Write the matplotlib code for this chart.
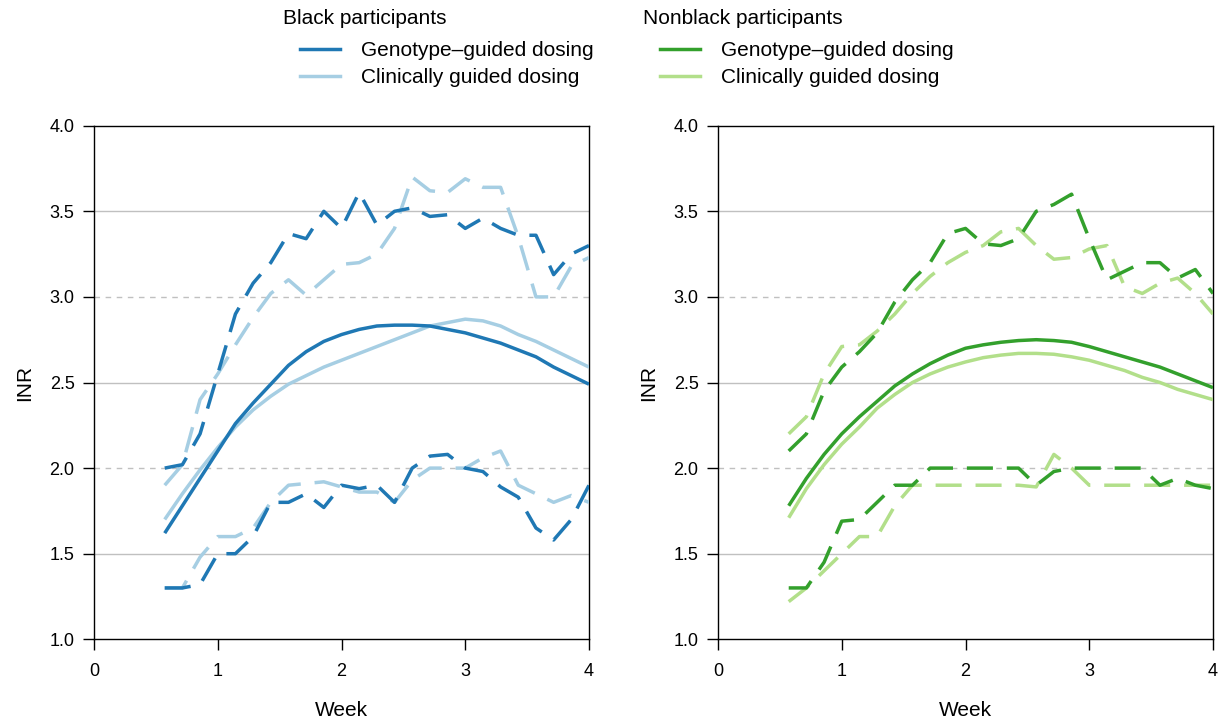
import numpy as np
import matplotlib
matplotlib.use("Agg")
import matplotlib.pyplot as plt
from matplotlib.lines import Line2D

plt.rcParams['font.family'] = ['Liberation Sans', 'DejaVu Sans']

# days since start of therapy (x is shown in weeks)
days = [4, 5, 6, 7, 8, 9, 10, 11, 12, 13, 14, 15, 16, 17, 18, 19, 20, 21, 22, 23, 24, 25, 26, 27, 28]

# Black participants
blk_geno_mid = [1.62, 1.78, 1.94, 2.10, 2.26, 2.38, 2.49, 2.60, 2.68, 2.74, 2.78, 2.81, 2.83, 2.835,
                2.835, 2.83, 2.81, 2.79, 2.76, 2.73, 2.69, 2.65, 2.59, 2.54, 2.49]
blk_geno_hi = [2.00, 2.02, 2.20, 2.55, 2.90, 3.08, 3.20, 3.37, 3.34, 3.50, 3.40, 3.61, 3.42, 3.50,
               3.52, 3.47, 3.48, 3.40, 3.46, 3.40, 3.36, 3.36, 3.13, 3.25, 3.30]
blk_geno_lo = [1.30, 1.30, 1.32, 1.50, 1.50, 1.60, 1.80, 1.80, 1.85, 1.77, 1.90, 1.88, 1.90, 1.80,
               2.00, 2.07, 2.08, 2.00, 1.98, 1.89, 1.83, 1.65, 1.58, 1.70, 1.90]
blk_clin_mid = [1.70, 1.85, 1.99, 2.12, 2.24, 2.34, 2.42, 2.49, 2.54, 2.59, 2.63, 2.67, 2.71, 2.75,
                2.79, 2.83, 2.85, 2.87, 2.86, 2.83, 2.78, 2.74, 2.69, 2.64, 2.59]
blk_clin_hi = [1.90, 2.02, 2.40, 2.55, 2.72, 2.88, 3.02, 3.10, 3.01, 3.10, 3.19, 3.20, 3.25, 3.40,
               3.70, 3.62, 3.61, 3.69, 3.64, 3.64, 3.35, 3.00, 3.00, 3.18, 3.23]
blk_clin_lo = [1.30, 1.30, 1.48, 1.60, 1.60, 1.65, 1.80, 1.90, 1.91, 1.92, 1.89, 1.86, 1.86, 1.80,
               1.93, 2.00, 2.00, 2.00, 2.06, 2.10, 1.90, 1.85, 1.80, 1.84, 1.80]

# Nonblack participants
nb_geno_mid = [1.78, 1.94, 2.08, 2.20, 2.30, 2.39, 2.48, 2.55, 2.61, 2.66, 2.70, 2.72, 2.735, 2.745,
               2.75, 2.745, 2.735, 2.71, 2.68, 2.65, 2.62, 2.59, 2.55, 2.51, 2.47]
nb_geno_hi = [2.10, 2.20, 2.45, 2.59, 2.68, 2.79, 2.97, 3.10, 3.20, 3.37, 3.40, 3.31, 3.30, 3.34,
              3.50, 3.54, 3.60, 3.34, 3.10, 3.15, 3.20, 3.20, 3.11, 3.16, 3.02]
nb_geno_lo = [1.30, 1.30, 1.45, 1.69, 1.70, 1.80, 1.90, 1.90, 2.00, 2.00, 2.00, 2.00, 2.00, 2.00,
              1.90, 1.98, 2.00, 2.00, 2.00, 2.00, 2.00, 1.90, 1.94, 1.90, 1.88]
nb_clin_mid = [1.71, 1.88, 2.02, 2.14, 2.24, 2.35, 2.43, 2.50, 2.55, 2.59, 2.62, 2.645, 2.66, 2.67,
               2.67, 2.665, 2.65, 2.63, 2.60, 2.57, 2.53, 2.50, 2.46, 2.43, 2.40]
nb_clin_hi = [2.20, 2.30, 2.55, 2.71, 2.72, 2.80, 2.90, 3.02, 3.12, 3.20, 3.26, 3.30, 3.38, 3.40,
              3.30, 3.22, 3.23, 3.28, 3.30, 3.06, 3.02, 3.08, 3.11, 3.02, 2.90]
nb_clin_lo = [1.22, 1.30, 1.40, 1.50, 1.60, 1.60, 1.78, 1.90, 1.90, 1.90, 1.90, 1.90, 1.90, 1.90,
              1.89, 2.08, 2.00, 1.90, 1.90, 1.90, 1.90, 1.90, 1.90, 1.90, 1.90]

groups = ["Black participants", "Nonblack participants"]
arms = ["Genotype\u2013guided dosing", "Clinically guided dosing"]
colors = {"Black participants": ["#1f78b4", "#a6cee3"],
          "Nonblack participants": ["#33a02c", "#b2df8a"]}
series = {"Black participants": [(blk_geno_mid, blk_geno_lo, blk_geno_hi),
                                 (blk_clin_mid, blk_clin_lo, blk_clin_hi)],
          "Nonblack participants": [(nb_geno_mid, nb_geno_lo, nb_geno_hi),
                                    (nb_clin_mid, nb_clin_lo, nb_clin_hi)]}

solid_grid = [1.5, 2.5, 3.5]
dashed_grid = [2.0, 3.0]
x_ticks = [0, 1, 2, 3, 4]
y_ticks = [1.0, 1.5, 2.0, 2.5, 3.0, 3.5, 4.0]

weeks = np.array(days) / 7.0

fig = plt.figure(figsize=(12.18, 7.21), dpi=100)
W, H = 1218, 721
lefts = [94, 718]
ax_w = 495
bottom, top = 639.3, 125.7
lw = 2.5

for g, left in zip(groups, lefts):
    ax = fig.add_axes([left / W, (H - bottom) / H, ax_w / W, (bottom - top) / H])
    for y in solid_grid:
        ax.axhline(y, color="#c0c0c0", lw=1.0, zorder=1)
    for y in dashed_grid:
        ax.axhline(y, color="#c0c0c0", lw=1.0, ls=(0, (4, 4)), zorder=1)
    # draw clinically guided first so genotype-guided sits on top
    for (mid, lo, hi), c in list(zip(series[g], colors[g]))[::-1]:
        ax.plot(weeks, mid, color=c, lw=lw, solid_capstyle="butt", zorder=3)
        ax.plot(weeks, hi, color=c, lw=lw, dashes=(7.5, 4), zorder=3)
        ax.plot(weeks, lo, color=c, lw=lw, dashes=(7.5, 4), zorder=3)
    ax.set_xlim(0, 4)
    ax.set_ylim(1.0, 4.0)
    ax.set_xticks(x_ticks)
    ax.set_yticks(y_ticks)
    ax.set_yticklabels([f"{v:.1f}" for v in y_ticks])
    ax.tick_params(axis="both", direction="out", length=8, width=1, labelsize=13)
    ax.tick_params(axis="x", pad=9)
    ax.tick_params(axis="y", pad=6)
    for s in ax.spines.values():
        s.set_linewidth(1.0)
    ax.set_xlabel("Week", fontsize=15, labelpad=15)
    ax.set_ylabel("INR", fontsize=15, labelpad=11)

    # legend block above each panel
    tx = 283 if g == groups[0] else 643
    fig.text(tx / W, 1 - 18 / H, g, fontsize=15, ha="left", va="center")
    handles = [Line2D([], [], color=c, lw=lw) for c in colors[g]]
    fig.legend(handles, arms, loc="upper left", bbox_to_anchor=((tx + 17) / W, 1 - 41 / H),
               frameon=False, fontsize=15, handlelength=1.9, handletextpad=1.05,
               labelspacing=0.38, borderpad=0, borderaxespad=0)

fig.savefig("out.png", dpi=100)
